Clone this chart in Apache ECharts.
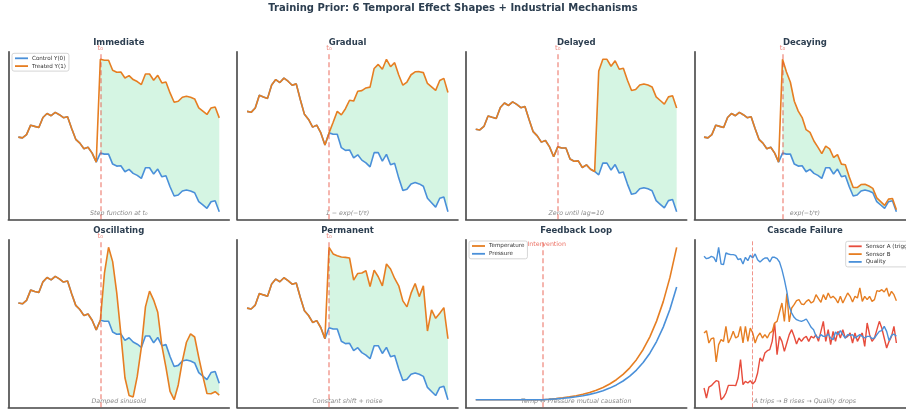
<!DOCTYPE html>
<html>
<head>
<meta charset="utf-8">
<script src="https://cdn.jsdelivr.net/npm/echarts@6/dist/echarts.min.js"></script>
<style>
  html, body { margin: 0; padding: 0; background: #fff; }
  #chart { width: 906px; height: 410px; }
</style>
</head>
<body>
<div id="chart"></div>
<script>
// ---------- data ----------
const timeSteps = [0,1,2,3,4,5,6,7,8,9,10,11,12,13,14,15,16,17,18,19,20,21,22,23,24,25,26,27,28,29,
                   30,31,32,33,34,35,36,37,38,39,40,41,42,43,44,45,46,47,48,49];
const interventionStep = 20;

// untreated outcome Y(0), shared by the six effect-shape panels
const controlY0 = [6.30, 6.23, 6.55, 7.50, 7.38, 7.27, 8.27, 8.67, 8.45, 8.78,
                   8.55, 8.25, 8.35, 7.17, 6.08, 5.70, 5.13, 5.28, 4.70, 3.80,
                   4.70, 4.60, 4.60, 3.60, 3.40, 3.43, 2.83, 3.07, 2.67, 2.47,
                   2.17, 3.23, 3.23, 2.60, 3.10, 2.33, 2.43, 1.33, 0.40, 0.50,
                   0.90, 1.00, 0.90, 0.73, -0.17, -0.50, -0.83, -0.17, -0.07, -1.17];

// treatment effect from the intervention step onward (30 steps)
const effectImmediate = [9.40, 9.40, 9.40, 9.40, 9.40, 9.40, 9.40, 9.40, 9.40, 9.40,
                         9.40, 9.40, 9.40, 9.40, 9.40, 9.40, 9.40, 9.40, 9.40, 9.40,
                         9.40, 9.40, 9.40, 9.40, 9.40, 9.40, 9.40, 9.40, 9.40, 9.40];
const effectGradual = [0.00, 0.89, 1.70, 2.44, 3.10, 3.70, 4.24, 4.73, 5.18, 5.58,
                       5.94, 6.27, 6.57, 6.84, 7.08, 7.30, 7.50, 7.68, 7.85, 7.99,
                       8.13, 8.25, 8.36, 8.46, 8.55, 8.63, 8.70, 8.77, 8.83, 8.88];
const effectDelayed = [0, 0, 0, 0, 0, 0, 0, 0, 0, 0,
                       9.40, 9.40, 9.40, 9.40, 9.40, 9.40, 9.40, 9.40, 9.40, 9.40,
                       9.40, 9.40, 9.40, 9.40, 9.40, 9.40, 9.40, 9.40, 9.40, 9.40];
const effectDecaying = [9.40, 8.23, 7.20, 6.30, 5.51, 4.83, 4.22, 3.70, 3.24, 2.83,
                        2.48, 2.17, 1.90, 1.66, 1.45, 1.27, 1.11, 0.97, 0.85, 0.75,
                        0.65, 0.57, 0.50, 0.44, 0.38, 0.34, 0.29, 0.26, 0.22, 0.20];
const effectOscillating = [0.00, 4.47, 6.88, 6.55, 3.85, 0.00, -3.48, -5.36, -5.10, -3.00,
                           0.00, 2.71, 4.18, 3.97, 2.34, 0.00, -2.11, -3.25, -3.09, -1.82,
                           0.00, 1.65, 2.53, 2.41, 1.42, 0.00, -1.28, -1.97, -1.88, -1.10];
const effectPermanent = [6.56, 6.12, 5.98, 6.87, 7.04, 6.96, 5.76, 6.06, 6.49, 6.88,
                         5.89, 6.17, 5.63, 5.52, 6.80, 7.16, 6.29, 6.79, 6.49, 5.90,
                         6.62, 7.31, 6.34, 7.39, 4.60, 6.65, 6.30, 6.05, 6.41, 4.97];

// feedback loop
const loopSteps = [0,1,2,3,4,5,6,7,8,9,10,11,12,13,14,15,16,17,18,19,20,21,22,23,24,25,26,27,28,29,30];
const loopIntervention = 10;
const temperature = [20, 20, 20, 20, 20, 20, 20, 20, 20, 20, 20,
                     20.32, 20.72, 21.22, 21.84, 22.61, 23.56, 24.74, 26.21, 28.04, 30.31,
                     33.13, 36.63, 40.97, 46.37, 53.07, 61.40, 71.75, 84.59, 100.54, 120.36];
const pressure = [20, 20, 20, 20, 20, 20, 20, 20, 20, 20, 20,
                  20.24, 20.53, 20.90, 21.36, 21.93, 22.63, 23.51, 24.60, 25.95, 27.63,
                  29.72, 32.31, 35.52, 39.51, 44.47, 50.64, 58.30, 67.80, 79.60, 94.27];

// cascade failure
const cascadeSteps = [0,1,2,3,4,5,6,7,8,9,10,11,12,13,14,15,16,17,18,19,
                      20,21,22,23,24,25,26,27,28,29,30,31,32,33,34,35,36,37,38,39,
                      40,41,42,43,44,45,46,47,48,49,50,51,52,53,54,55,56,57,58,59,
                      60,61,62,63,64,65,66,67,68,69,70,71,72,73,74,75,76,77,78,79];
const cascadeTrigger = 20;
const sensorA = [1.20, 0.60, 1.26, 1.34, 1.50, 1.64, 1.60, 0.50, 0.64, 0.90,
                 1.36, 1.36, 1.36, 1.34, 1.80, 2.90, 1.40, 1.60, 1.50, 1.64,
                 1.44, 1.60, 2.10, 3.00, 2.80, 3.30, 3.44, 3.50, 4.00, 5.10,
                 3.20, 4.30, 4.00, 3.40, 3.90, 4.40, 4.70, 4.30, 3.84, 4.20,
                 4.00, 4.20, 4.30, 4.00, 4.30, 4.20, 4.40, 4.00, 4.60, 5.20,
                 4.00, 4.70, 3.80, 4.60, 4.00, 4.60, 4.20, 4.70, 4.20, 4.30,
                 4.50, 3.90, 4.50, 4.00, 4.30, 4.50, 3.70, 5.10, 4.40, 4.00,
                 4.20, 4.70, 5.20, 4.80, 4.20, 3.60, 4.00, 4.30, 4.90, 3.90];
const sensorB = [4.50, 4.64, 3.90, 4.16, 4.20, 2.76, 3.80, 4.10, 4.00, 4.90,
                 3.90, 4.20, 4.60, 4.20, 4.30, 4.90, 3.90, 4.90, 4.00, 4.80,
                 4.50, 3.90, 4.30, 4.50, 4.20, 4.40, 4.20, 4.50, 4.60, 5.10,
                 5.20, 5.76, 6.30, 5.20, 6.86, 5.16, 6.00, 6.20, 6.44, 6.50,
                 6.24, 6.20, 6.40, 6.50, 6.30, 6.40, 6.80, 6.56, 6.34, 6.80,
                 6.50, 6.90, 6.60, 6.70, 6.56, 6.30, 6.70, 6.30, 6.60, 6.90,
                 6.70, 6.36, 6.70, 6.60, 7.20, 6.40, 6.70, 6.50, 6.70, 6.40,
                 6.50, 7.04, 7.00, 7.10, 6.96, 7.20, 6.70, 7.00, 6.80, 6.44];
const quality = [9.10, 8.96, 9.00, 9.10, 9.04, 8.76, 9.64, 8.64, 8.60, 9.30,
                 9.24, 9.20, 9.20, 9.16, 8.90, 8.96, 8.64, 9.04, 8.84, 9.16,
                 9.00, 9.24, 8.90, 8.76, 8.90, 9.00, 9.00, 8.76, 9.04, 9.04,
                 8.96, 8.76, 8.30, 7.70, 7.00, 6.10, 5.70, 5.44, 5.30, 5.24,
                 5.20, 5.26, 5.34, 5.10, 4.84, 4.70, 4.30, 4.20, 4.40, 4.30,
                 4.30, 4.44, 4.20, 4.10, 4.56, 4.40, 4.64, 4.40, 4.20, 4.40,
                 4.36, 4.40, 4.20, 4.30, 4.40, 4.30, 4.20, 4.30, 4.30, 4.16,
                 4.20, 4.40, 4.60, 4.64, 4.90, 4.60, 4.04, 4.36, 4.44, 4.30];

const panelTitles = ['Immediate', 'Gradual', 'Delayed', 'Decaying',
                     'Oscillating', 'Permanent', 'Feedback Loop', 'Cascade Failure'];
const panelNotes = ['Step function at t\u2080', '1 \u2212 exp(\u2212t/\u03c4)', 'Zero until lag=10', 'exp(\u2212t/\u03c4)',
                    'Damped sinusoid', 'Constant shift + noise',
                    'Temp \u2194 Pressure mutual causation', 'A trips \u2192 B rises \u2192 Quality drops'];
const mainTitle = 'Training Prior: 6 Temporal Effect Shapes + Industrial Mechanisms';

// ---------- styling / layout ----------
const FONT = 'DejaVu Sans';
const ORANGE = '#E67E22', BLUE = '#4A90D9', RED = '#E74C3C';
const FILL = 'rgba(46,204,113,0.2)';
const TITLE_COLOR = '#2C3E50';
const GRID_W = 221, GRID_H = 167.6;
const COL_LEFT = [8.3, 237.0, 465.7, 694.4];
const ROW_TOP = [51.7, 239.7];

const grids = [], xAxes = [], yAxes = [], series = [], graphics = [];

function padded(lo, hi) {
  const pad = (hi - lo) * 0.05;
  return [lo - pad, hi + pad];
}

function addPanel(g, xs, ys) {
  const col = g % 4, row = Math.floor(g / 4);
  const left = COL_LEFT[col], top = ROW_TOP[row];
  grids.push({ left: left, top: top, width: GRID_W, height: GRID_H, containLabel: false });
  const [xmin, xmax] = padded(Math.min(...xs), Math.max(...xs));
  const all = [].concat(...ys);
  const [ymin, ymax] = padded(Math.min(...all), Math.max(...all));
  const axisLine = { show: true, onZero: false, lineStyle: { color: '#444', width: 1.6 } };
  xAxes.push({ gridIndex: g, type: 'value', min: xmin, max: xmax, axisLine: axisLine,
               axisTick: { show: false }, axisLabel: { show: false }, splitLine: { show: false } });
  yAxes.push({ gridIndex: g, type: 'value', min: ymin, max: ymax, axisLine: axisLine,
               axisTick: { show: false }, axisLabel: { show: false }, splitLine: { show: false } });
  const cx = left + GRID_W / 2;
  graphics.push({ type: 'text', x: cx, y: top - 8.5, silent: true,
    style: { text: panelTitles[g], textAlign: 'center', textVerticalAlign: 'middle',
             fill: TITLE_COLOR, font: 'bold 8.5px "' + FONT + '"' } });
  graphics.push({ type: 'text', x: cx, y: top + GRID_H - 6, silent: true,
    style: { text: panelNotes[g], textAlign: 'center', textVerticalAlign: 'middle',
             fill: '#888', font: 'italic 6.3px "' + FONT + '"' } });
}

function lineSeries(g, name, xs, ys, color, width, extra) {
  return Object.assign({
    type: 'line', name: name, xAxisIndex: g, yAxisIndex: g,
    data: xs.map((x, i) => [x, ys[i]]),
    showSymbol: false, symbol: 'none', animation: false, z: 3,
    lineStyle: { color: color, width: width }, itemStyle: { color: color }
  }, extra || {});
}

function vline(x, opts) {
  return {
    silent: true, symbol: ['none', 'none'], animation: false,
    data: [{ xAxis: x }],
    lineStyle: { color: opts.color, type: opts.dash, width: opts.width },
    label: opts.label ? { show: true, position: 'end', formatter: opts.label,
                          color: 'rgba(231,76,60,0.65)', fontSize: 7, fontFamily: FONT, distance: 0 }
                      : { show: false }
  };
}

function fillBetween(g, xs, lo, hi, from) {
  const rows = [];
  for (let i = from; i < xs.length; i++) rows.push([xs[i], lo[i], hi[i]]);
  return {
    type: 'custom', xAxisIndex: g, yAxisIndex: g, silent: true, z: 1, animation: false,
    data: rows, encode: { x: 0, y: [1, 2] },
    renderItem(params, api) {
      if (params.dataIndex !== 0) return null;
      const upper = rows.map(r => api.coord([r[0], r[2]]));
      const lower = rows.map(r => api.coord([r[0], r[1]])).reverse();
      return { type: 'polygon', shape: { points: upper.concat(lower) }, style: { fill: FILL } };
    }
  };
}

// ---------- six effect-shape panels ----------
const effects = [effectImmediate, effectGradual, effectDelayed, effectDecaying, effectOscillating, effectPermanent];
const panelOrder = [0, 1, 2, 3, 4, 5];
panelOrder.forEach(g => {
  const eff = effects[g];
  const treated = controlY0.map((v, i) => i < interventionStep ? v : +(v + eff[i - interventionStep]).toFixed(2));
  addPanel(g, timeSteps, [controlY0, treated]);
  series.push(fillBetween(g, timeSteps, controlY0, treated, interventionStep));
  series.push(lineSeries(g, 'Control Y(0)', timeSteps, controlY0, BLUE, 1.6, {
    markLine: vline(interventionStep, { color: 'rgba(231,76,60,0.55)', dash: [5, 3], width: 1.5, label: 't\u2080' })
  }));
  series.push(lineSeries(g, 'Treated Y(1)', timeSteps, treated, ORANGE, 1.6, { z: 4 }));
});

// ---------- feedback loop ----------
addPanel(6, loopSteps, [temperature, pressure]);
series.push(lineSeries(6, 'Temperature', loopSteps, temperature, ORANGE, 1.6, {
  markLine: vline(loopIntervention, { color: 'rgba(231,76,60,0.55)', dash: [5, 3], width: 1.5 })
}));
series.push(lineSeries(6, 'Pressure', loopSteps, pressure, BLUE, 1.6));
graphics.push({ type: 'text', x: 527.5, y: 244.3, silent: true,
  style: { text: 'Intervention', textAlign: 'left', textVerticalAlign: 'middle',
           fill: 'rgba(231,76,60,0.8)', font: '6.3px "' + FONT + '"' } });

// ---------- cascade failure ----------
addPanel(7, cascadeSteps, [sensorA, sensorB, quality]);
series.push(lineSeries(7, 'Sensor A (trigger)', cascadeSteps, sensorA, RED, 1.4, {
  markLine: vline(cascadeTrigger, { color: 'rgba(231,76,60,0.6)', dash: [4, 2], width: 1 })
}));
series.push(lineSeries(7, 'Sensor B', cascadeSteps, sensorB, ORANGE, 1.4));
series.push(lineSeries(7, 'Quality', cascadeSteps, quality, BLUE, 1.4));

// main title
graphics.push({ type: 'text', x: 453, y: 8.5, silent: true,
  style: { text: mainTitle, textAlign: 'center', textVerticalAlign: 'middle',
           fill: TITLE_COLOR, font: 'bold 10px "' + FONT + '"' } });

const legendBase = {
  orient: 'vertical', icon: 'rect', itemWidth: 13, itemHeight: 1.8, itemGap: 1.8,
  selectedMode: false, padding: [2, 3, 2, 3],
  backgroundColor: 'rgba(255,255,255,0.85)', borderColor: '#ccc', borderWidth: 0.8, borderRadius: 2,
  textStyle: { fontSize: 5.6, fontFamily: FONT, color: '#333', padding: [0, 0, 0, -1] }
};
const legends = [
  Object.assign({}, legendBase, { left: 12, top: 53.3, data: ['Control Y(0)', 'Treated Y(1)'] }),
  Object.assign({}, legendBase, { left: 469, top: 241, data: ['Temperature', 'Pressure'] }),
  Object.assign({}, legendBase, { left: 845.7, top: 241.3, data: ['Sensor A (trigger)', 'Sensor B', 'Quality'] })
];

const chart = echarts.init(document.getElementById('chart'), null, { renderer: 'canvas' });
chart.setOption({
  animation: false,
  backgroundColor: '#fff',
  textStyle: { fontFamily: FONT },
  grid: grids, xAxis: xAxes, yAxis: yAxes,
  legend: legends,
  series: series,
  graphic: graphics
});
</script>
</body>
</html>
